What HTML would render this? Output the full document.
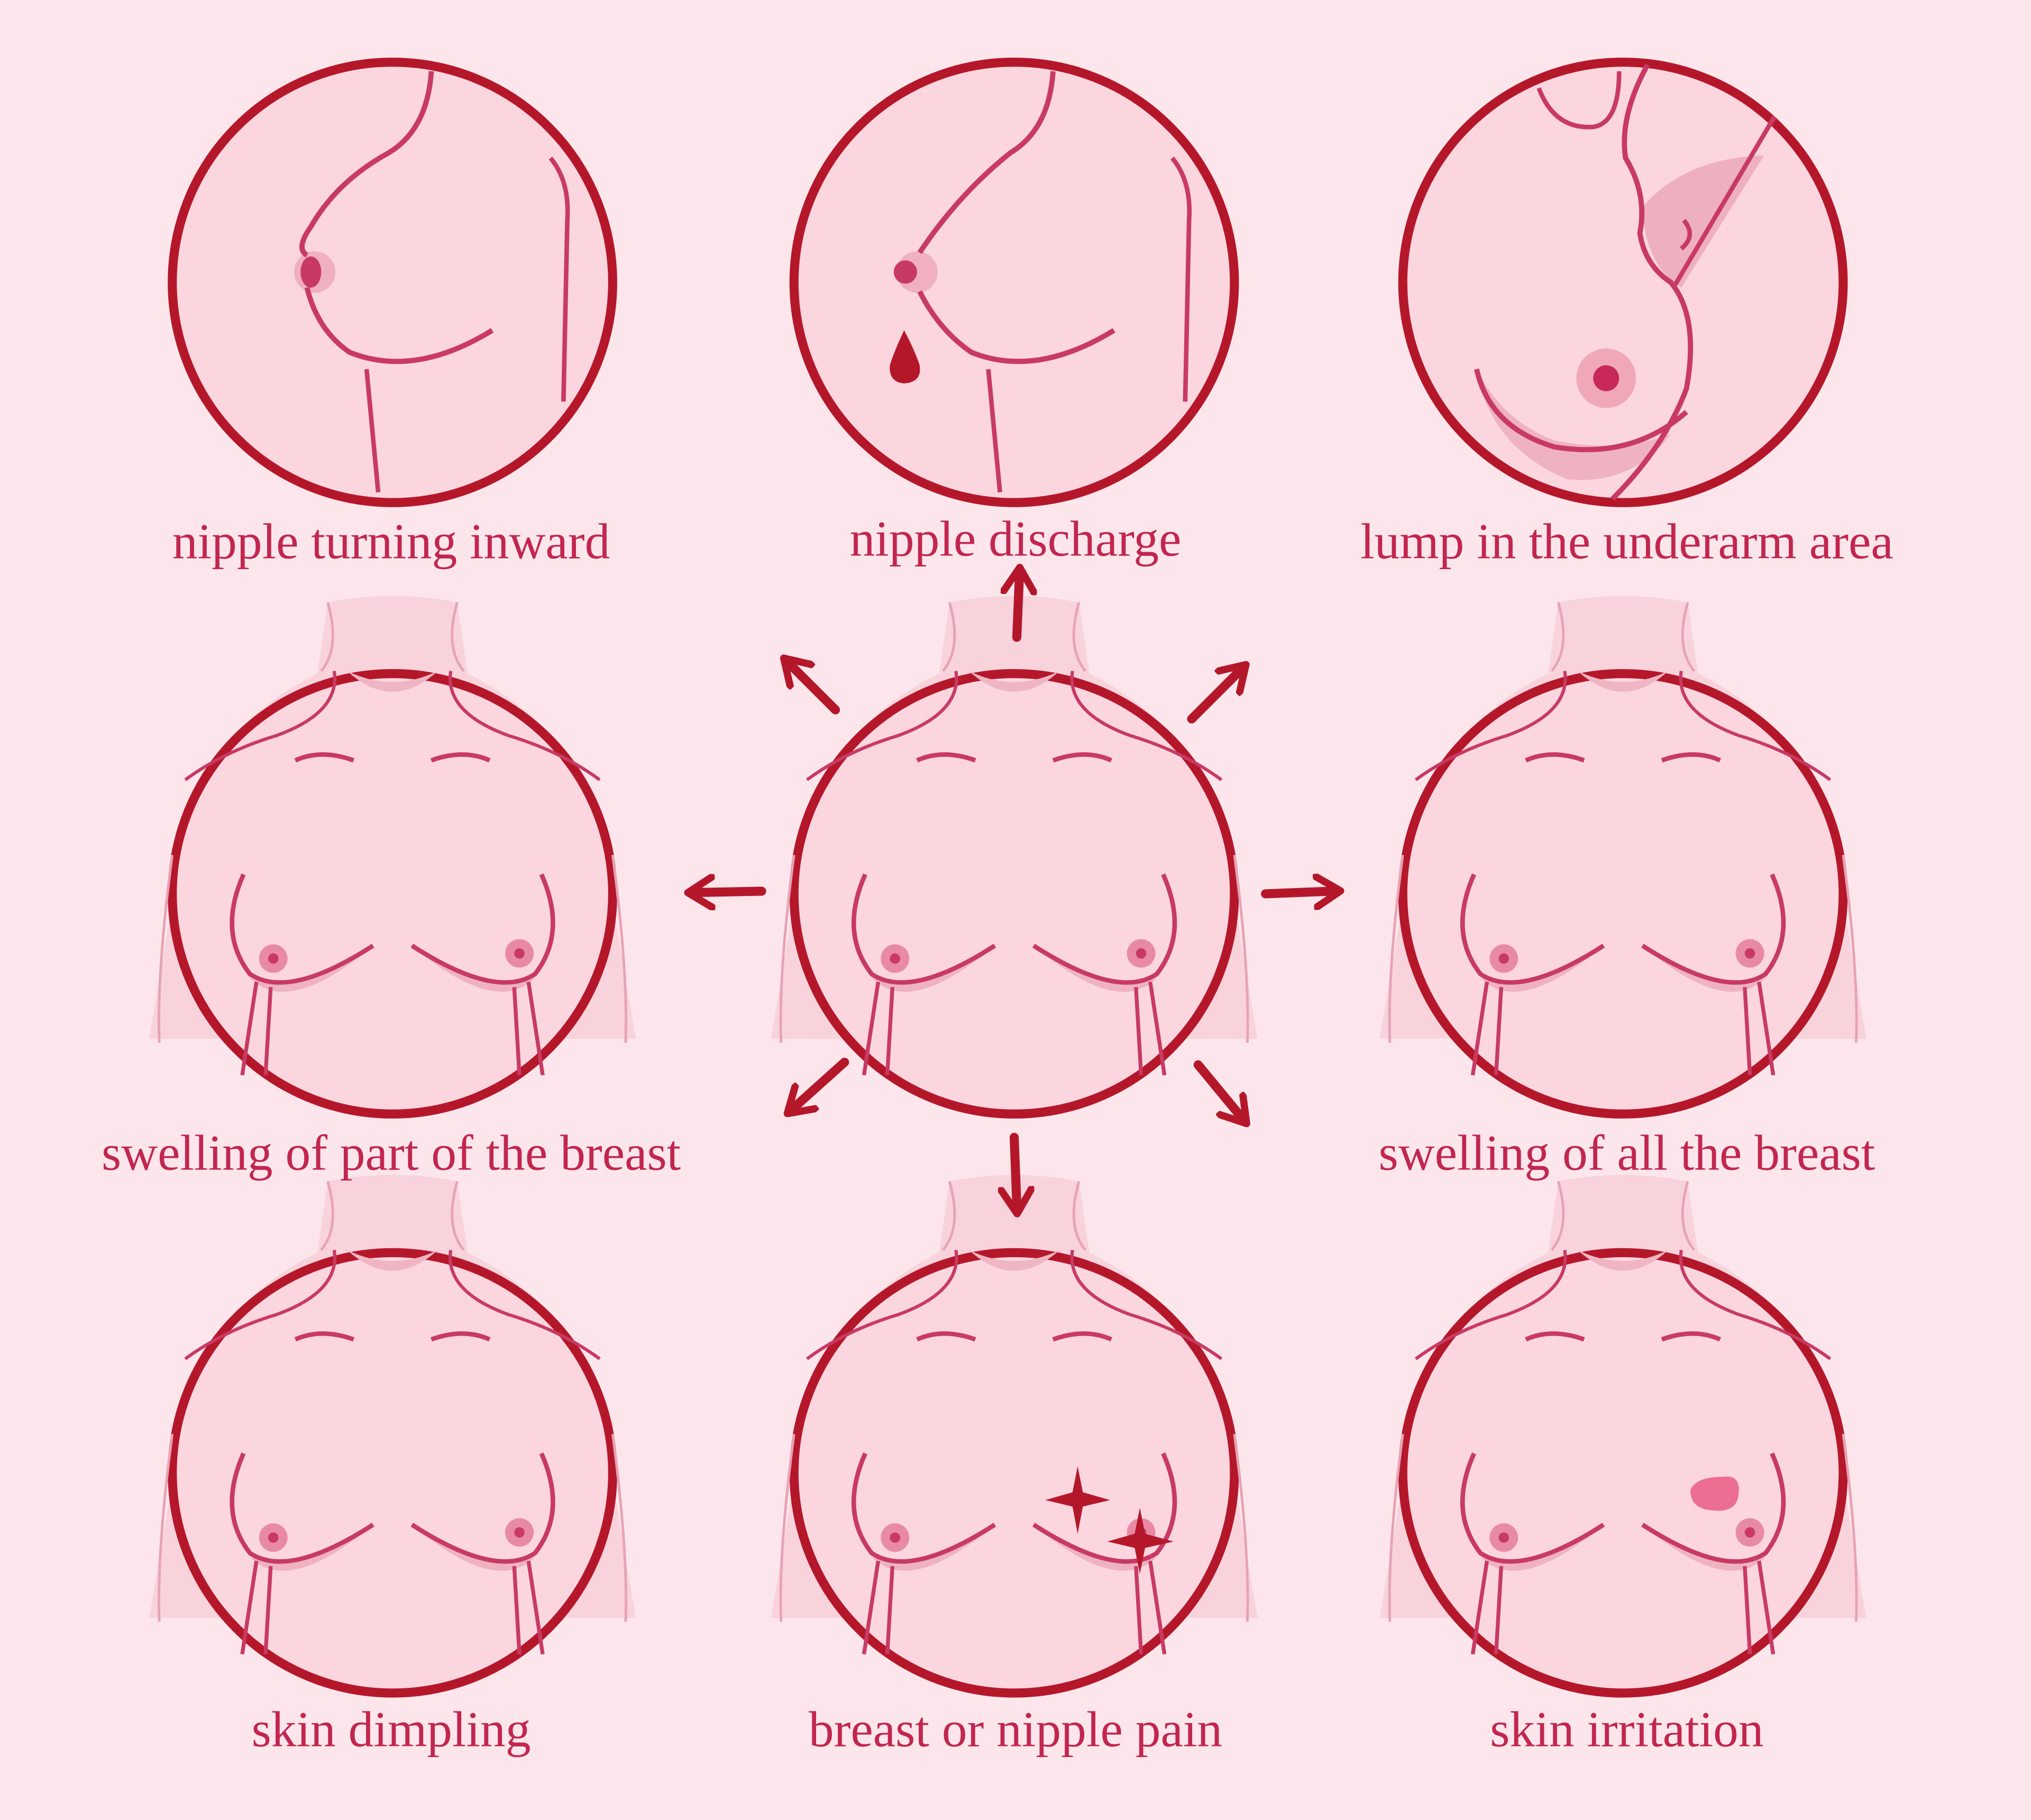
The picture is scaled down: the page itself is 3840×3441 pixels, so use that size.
<!DOCTYPE html>
<html><head><meta charset="utf-8"><style>
html,body{margin:0;padding:0;background:#fce6ec;}
svg{display:block;}
text{font-family:"Liberation Serif",serif;fill:#c2264f;font-size:39px;text-anchor:middle;}
</style></head><body>
<svg width="3840" height="3441" viewBox="0 0 1568 1405" preserveAspectRatio="none" xmlns="http://www.w3.org/2000/svg">
<defs>
<marker id="ah" viewBox="0 0 12 12" refX="6" refY="6" markerWidth="4" markerHeight="4" orient="auto" markerUnits="strokeWidth">
<path d="M1,1 L9,6 L1,11" fill="none" stroke="#b5172a" stroke-width="2.4" stroke-linecap="round" stroke-linejoin="round"/>
</marker>
<g id="front">
<path d="M-50,-225 Q0,-235 50,-225 L58,-170 Q130,-135 160,-60 Q175,40 188,112 L-188,112 Q-175,40 -160,-60 Q-130,-135 -58,-170 Z" fill="#f9d3dc"/>
<path d="M-50,-225 Q-40,-190 -55,-172 M50,-225 Q40,-190 55,-172" fill="none" stroke="#e7a3b5" stroke-width="2"/>
<circle cx="0" cy="0" r="170" fill="#fbd6df" stroke="#b5172a" stroke-width="7"/>
<path d="M-35,-172 Q0,-140 35,-172 Q0,-155 -35,-172Z" fill="#f0b5c3"/>
<path d="M-45,-172 Q-40,-140 -90,-122 Q-130,-110 -160,-88 M45,-172 Q40,-140 90,-122 Q130,-110 160,-88" fill="none" stroke="#c83a64" stroke-width="2.5"/>
<path d="M-75,-103 Q-55,-112 -30,-103 M75,-103 Q55,-112 30,-103" fill="none" stroke="#c83a64" stroke-width="3.5"/>
<path d="M-110,65 Q-80,95 -15,40 Q-70,80 -110,65Z M110,65 Q80,95 15,40 Q70,80 110,65Z" fill="#efb2c1"/>
<path d="M-115,-15 Q-135,30 -110,62 Q-80,82 -15,40 M115,-15 Q135,30 110,62 Q80,82 15,40" fill="none" stroke="#c83a64" stroke-width="3.5"/>
<path d="M-105,68 L-116,140 M-94,72 L-98,140 M105,68 L116,140 M94,72 L98,140" stroke="#c83a64" stroke-width="3"/>
<path d="M-170,-30 Q-182,60 -180,115 M170,-30 Q182,60 180,115" fill="none" stroke="#e7a3b5" stroke-width="2"/>
<circle cx="-92" cy="50" r="11" fill="#e98aa4"/><circle cx="-92" cy="50" r="4" fill="#c83a64"/>
<circle cx="98" cy="46" r="11" fill="#e98aa4"/><circle cx="98" cy="46" r="4" fill="#c83a64"/>
</g>
</defs>
<rect width="1568" height="1405" fill="#fce6ec"/>

<circle cx="303" cy="218" r="170" fill="#fbd6df" stroke="#b5172a" stroke-width="7"/>
<circle cx="243" cy="210" r="16" fill="#f0b0c0"/>
<path d="M333,55 Q330,100 300,118 Q260,140 240,175 Q228,192 237,197" fill="none" stroke="#c83a64" stroke-width="4"/>
<path d="M237,222 Q245,255 270,272 Q320,292 380,255" fill="none" stroke="#c83a64" stroke-width="4"/>
<ellipse cx="240" cy="210" rx="8" ry="12" fill="#c83a64"/>
<path d="M425,122 Q440,140 438,170 L435,310 M283,285 L292,380" fill="none" stroke="#c83a64" stroke-width="3.5"/>

<circle cx="783" cy="218" r="170" fill="#fbd6df" stroke="#b5172a" stroke-width="7"/>
<circle cx="708" cy="210" r="16" fill="#f0b0c0"/>
<path d="M813,55 Q810,100 780,118 Q740,150 710,195 M710,225 Q725,255 750,272 Q800,292 860,255" fill="none" stroke="#c83a64" stroke-width="4"/>
<circle cx="699" cy="210" r="9" fill="#c83a64"/>
<path d="M905,122 Q920,140 918,170 L915,310 M763,285 L772,380" fill="none" stroke="#c83a64" stroke-width="3.5"/>
<path d="M698,255 Q690,272 687,282 Q686,295 698,296 Q712,295 710,282 Q706,270 698,255Z" fill="#b5172a"/>

<circle cx="1253" cy="218" r="170" fill="#fbd6df" stroke="#b5172a" stroke-width="7"/>
<path d="M1140,285 Q1150,345 1210,370 Q1260,375 1290,335 Q1250,350 1200,340 Q1160,325 1140,285Z" fill="#efb2c1"/>
<path d="M1268,160 Q1300,122 1362,120 L1298,222 Q1270,205 1268,160Z" fill="#eeb0c0"/>
<path d="M1188,68 Q1200,100 1230,98 Q1250,95 1250,55" fill="none" stroke="#c83a64" stroke-width="3.5"/>
<path d="M1272,50 Q1250,90 1255,122 Q1272,150 1266,180 Q1270,205 1290,218 Q1312,245 1302,300 Q1285,345 1245,385" fill="none" stroke="#c83a64" stroke-width="4"/>
<path d="M1370,90 L1292,222 M1300,170 Q1310,182 1298,192" fill="none" stroke="#c83a64" stroke-width="3.5"/>
<path d="M1140,285 Q1150,330 1200,345 Q1260,355 1302,318" fill="none" stroke="#c83a64" stroke-width="4"/>
<circle cx="1240" cy="292" r="23" fill="#f0a8b8"/><circle cx="1240" cy="292" r="10" fill="#c8285a"/>

<use href="#front" transform="translate(303,690)"/>
<use href="#front" transform="translate(783,690)"/>
<use href="#front" transform="translate(1253,690)"/>
<use href="#front" transform="translate(303,1137)"/>
<use href="#front" transform="translate(783,1137)"/>
<use href="#front" transform="translate(1253,1137)"/>

<g fill="#b5172a">
<polygon points="832,1132 836,1152 857,1158 836,1163 832,1184 828,1163 807,1158 828,1152"/>
<polygon points="880,1164 884,1184 906,1190 884,1195 880,1215 876,1195 855,1190 876,1184"/>
</g>
<path d="M1305,1150 Q1310,1140 1330,1140 Q1345,1138 1342,1155 Q1340,1168 1322,1166 Q1305,1165 1305,1150Z" fill="#ec6f93"/>

<g stroke="#b5172a" stroke-width="7" stroke-linecap="round" fill="none" marker-end="url(#ah)">
<line x1="785" y1="492" x2="787" y2="445"/>
<line x1="588" y1="688" x2="538" y2="689"/>
<line x1="977" y1="690" x2="1028" y2="688"/>
<line x1="645" y1="548" x2="610" y2="513"/>
<line x1="920" y1="555" x2="957" y2="518"/>
<line x1="652" y1="820" x2="613" y2="855"/>
<line x1="925" y1="822" x2="958" y2="862"/>
<line x1="783" y1="878" x2="785" y2="930"/>
</g>

<text x="302" y="431">nipple turning inward</text>
<text x="784" y="429">nipple discharge</text>
<text x="1256" y="431">lump in the underarm area</text>
<text x="302" y="903">swelling of part of the breast</text>
<text x="1256" y="903">swelling of all the breast</text>
<text x="302" y="1348">skin dimpling</text>
<text x="784" y="1348">breast or nipple pain</text>
<text x="1256" y="1348">skin irritation</text>
</svg>
</body></html>
